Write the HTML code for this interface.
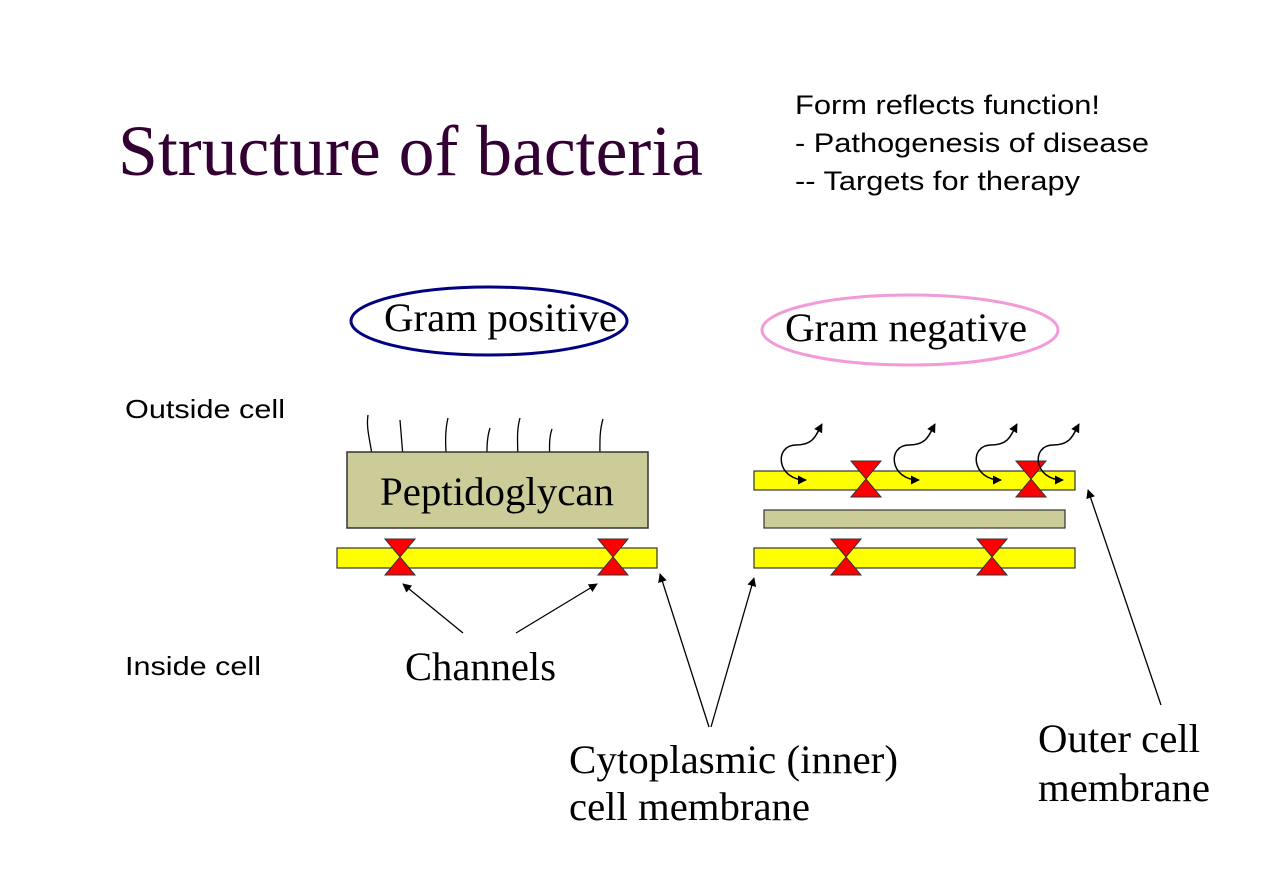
<!DOCTYPE html>
<html><head><style>body{margin:0;background:#fff}svg{display:block}</style></head><body>
<svg width="1272" height="879" viewBox="0 0 1272 879" xmlns="http://www.w3.org/2000/svg">
<defs>
<marker id="a" viewBox="0 0 10 10" refX="9" refY="5" markerWidth="9" markerHeight="9" orient="auto-start-reverse" markerUnits="userSpaceOnUse"><path d="M0,0 L10,5 L0,10 z" fill="#000"/></marker>
<g id="hg"><path d="M-15,-18 L15,-18 L-15,18 L15,18 Z" fill="#f00" stroke="#333" stroke-width="1"/></g>
<path id="sq" d="M0,0 C-30,0 -32,-35 -10,-35 C8,-35 10,-45 16,-56" fill="none" stroke="#000" stroke-width="1.5" marker-start="url(#a)" marker-end="url(#a)"/>
</defs>
<text x="118" y="175" font-family="Liberation Serif, serif" font-size="72" fill="#330033" textLength="585" lengthAdjust="spacingAndGlyphs">Structure of bacteria</text>
<g font-family="Liberation Sans, sans-serif" font-size="27" fill="#000" lengthAdjust="spacingAndGlyphs">
<text x="795" y="114" textLength="305" lengthAdjust="spacingAndGlyphs">Form reflects function!</text>
<text x="795" y="152" textLength="354" lengthAdjust="spacingAndGlyphs">- Pathogenesis of disease</text>
<text x="795" y="190" textLength="285" lengthAdjust="spacingAndGlyphs">-- Targets for therapy</text>
<text x="125" y="418" font-size="26" textLength="160" lengthAdjust="spacingAndGlyphs">Outside cell</text>
<text x="125" y="675" font-size="26" textLength="136" lengthAdjust="spacingAndGlyphs">Inside cell</text>
</g>
<ellipse cx="489" cy="321" rx="138" ry="34" fill="none" stroke="#000080" stroke-width="3"/>
<ellipse cx="910" cy="330" rx="148" ry="35" fill="none" stroke="#f39ad8" stroke-width="3"/>
<g font-family="Liberation Serif, serif" font-size="40" fill="#000">
<text x="384" y="331" textLength="233" lengthAdjust="spacingAndGlyphs">Gram positive</text>
<text x="785" y="341" textLength="242" lengthAdjust="spacingAndGlyphs">Gram negative</text>
</g>
<g stroke="#000" stroke-width="1.3" fill="none">
<path d="M372,455 C370,440 366,428 368,415"/>
<path d="M403,457 L400,420"/>
<path d="M447,462 C445,445 445,430 448,418"/>
<path d="M487,473 C487,455 486,440 490,428"/>
<path d="M518,464 C518,445 516,432 520,418"/>
<path d="M550,473 C550,455 548,440 552,429"/>
<path d="M600,464 C600,445 599,432 603,419"/>
</g>
<rect x="347" y="452" width="301" height="76" fill="#cccc99" stroke="#333" stroke-width="1.5"/>
<text x="380" y="505" font-family="Liberation Serif, serif" font-size="40" textLength="234" lengthAdjust="spacingAndGlyphs">Peptidoglycan</text>
<rect x="337" y="548" width="320" height="20" fill="#ff0" stroke="#333" stroke-width="1.2"/>
<use href="#hg" x="400" y="557"/><use href="#hg" x="613" y="557"/>
<rect x="754" y="471" width="321" height="19" fill="#ff0" stroke="#333" stroke-width="1.2"/>
<use href="#hg" x="866" y="479"/><use href="#hg" x="1031" y="479"/>
<rect x="764" y="510" width="301" height="18" fill="#cccc99" stroke="#333" stroke-width="1.2"/>
<rect x="754" y="548" width="321" height="20" fill="#ff0" stroke="#333" stroke-width="1.2"/>
<use href="#hg" x="846" y="557"/><use href="#hg" x="992" y="557"/>
<use href="#sq" x="806" y="480"/>
<use href="#sq" x="919" y="480"/>
<use href="#sq" x="1001" y="480"/>
<use href="#sq" x="1063" y="480"/>
<g stroke="#000" stroke-width="1.3" marker-end="url(#a)">
<line x1="463" y1="633" x2="403" y2="584"/>
<line x1="516" y1="633" x2="597" y2="584"/>
<line x1="709" y1="727" x2="660" y2="574"/>
<line x1="711" y1="727" x2="754" y2="578"/>
<line x1="1161" y1="705" x2="1088" y2="490"/>
</g>
<g font-family="Liberation Serif, serif" font-size="40" fill="#000">
<text x="405" y="680" textLength="151" lengthAdjust="spacingAndGlyphs">Channels</text>
<text x="569" y="773" textLength="329" lengthAdjust="spacingAndGlyphs">Cytoplasmic (inner)</text>
<text x="569" y="820" textLength="241" lengthAdjust="spacingAndGlyphs">cell membrane</text>
<text x="1038" y="752" textLength="162" lengthAdjust="spacingAndGlyphs">Outer cell</text>
<text x="1038" y="801" textLength="172" lengthAdjust="spacingAndGlyphs">membrane</text>
</g>
</svg>
</body></html>
